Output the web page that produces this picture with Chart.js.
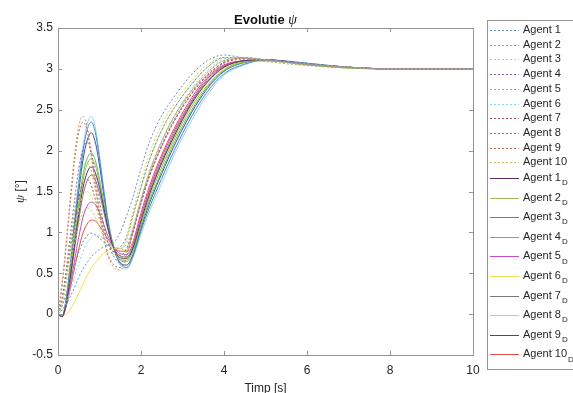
<!DOCTYPE html>
<html>
<head>
<meta charset="utf-8">
<script src="https://cdn.jsdelivr.net/npm/chart.js@4"></script>
<style>
html, body { margin: 0; padding: 0; background: #fff; }
</style>
</head>
<body>
<canvas id="c" width="573" height="393"></canvas>
<script>
// time samples [s]
const timp = [0, 0.1, 0.2, 0.3, 0.4, 0.5, 0.6, 0.7, 0.8, 0.9, 1.0, 1.1, 1.2, 1.35, 1.5, 1.65, 1.8, 2.0, 2.2, 2.5, 2.8, 3.2, 3.6, 4.0, 4.5, 5.0, 6.0, 7.0, 8.0, 10.0];

// agents (dashed)
const agent1  = [0, 0.05, 0.12, 0.22, 0.33, 0.45, 0.55, 0.63, 0.70, 0.75, 0.79, 0.82, 0.84, 0.88, 1.00, 1.20, 1.42, 1.78, 2.10, 2.43, 2.66, 2.92, 3.10, 3.17, 3.13, 3.11, 3.06, 3.02, 3.00, 3.00];
const agent2  = [0, 0.40, 0.90, 1.45, 1.95, 2.30, 2.42, 2.30, 2.00, 1.60, 1.25, 0.95, 0.72, 0.57, 0.54, 0.70, 1.02, 1.40, 1.72, 2.10, 2.42, 2.72, 2.95, 3.10, 3.13, 3.11, 3.05, 3.02, 3.00, 3.00];
const agent3  = [0, 0.14, 0.40, 0.72, 1.02, 1.28, 1.45, 1.50, 1.45, 1.32, 1.15, 1.00, 0.90, 0.80, 0.80, 0.92, 1.25, 1.62, 1.96, 2.32, 2.58, 2.85, 3.05, 3.14, 3.13, 3.11, 3.06, 3.02, 3.00, 3.00];
const agent4  = [0, 0.20, 0.55, 0.98, 1.40, 1.78, 2.02, 2.10, 1.98, 1.70, 1.38, 1.10, 0.88, 0.70, 0.63, 0.72, 0.98, 1.35, 1.68, 2.05, 2.36, 2.68, 2.92, 3.08, 3.13, 3.11, 3.06, 3.02, 3.00, 3.00];
const agent5  = [0, 0.18, 0.50, 0.88, 1.25, 1.58, 1.80, 1.85, 1.75, 1.52, 1.27, 1.05, 0.88, 0.74, 0.68, 0.76, 1.02, 1.40, 1.74, 2.12, 2.42, 2.72, 2.96, 3.10, 3.12, 3.09, 3.04, 3.01, 3.00, 3.00];
const agent6  = [0, 0.05, 0.15, 0.30, 0.46, 0.62, 0.76, 0.87, 0.94, 0.97, 0.96, 0.92, 0.87, 0.82, 0.80, 0.86, 1.05, 1.40, 1.74, 2.12, 2.42, 2.74, 2.98, 3.12, 3.14, 3.11, 3.06, 3.02, 3.00, 3.00];
const agent7  = [0, 0.16, 0.45, 0.80, 1.14, 1.42, 1.60, 1.65, 1.58, 1.40, 1.20, 1.02, 0.88, 0.76, 0.72, 0.80, 1.02, 1.38, 1.70, 2.06, 2.36, 2.68, 2.92, 3.07, 3.12, 3.11, 3.06, 3.02, 3.00, 3.00];
const agent8  = [0, 0.10, 0.25, 0.42, 0.60, 0.76, 0.88, 0.96, 0.99, 0.97, 0.93, 0.88, 0.84, 0.80, 0.82, 0.95, 1.20, 1.55, 1.88, 2.25, 2.52, 2.80, 3.02, 3.14, 3.14, 3.11, 3.06, 3.02, 3.00, 3.00];
const agent9  = [0, 0.35, 0.85, 1.38, 1.88, 2.22, 2.35, 2.25, 1.95, 1.58, 1.24, 0.95, 0.74, 0.60, 0.57, 0.70, 1.00, 1.36, 1.68, 2.06, 2.38, 2.70, 2.93, 3.08, 3.13, 3.11, 3.06, 3.02, 3.00, 3.00];
const agent10 = [0, 0.12, 0.35, 0.62, 0.88, 1.10, 1.25, 1.30, 1.27, 1.18, 1.06, 0.95, 0.88, 0.80, 0.80, 0.90, 1.18, 1.55, 1.88, 2.25, 2.52, 2.80, 3.02, 3.13, 3.13, 3.11, 3.06, 3.02, 3.00, 3.00];

// desired trajectories (solid)
const agent1D  = [0, -0.03, 0.14, 0.47, 0.85, 1.22, 1.54, 1.73, 1.80, 1.73, 1.55, 1.31, 1.06, 0.80, 0.69, 0.68, 0.80, 1.14, 1.46, 1.85, 2.18, 2.56, 2.84, 3.02, 3.10, 3.11, 3.06, 3.02, 3.00, 3.00];
const agent2D  = [0, -0.03, 0.15, 0.50, 0.90, 1.30, 1.63, 1.83, 1.90, 1.82, 1.61, 1.35, 1.08, 0.80, 0.67, 0.66, 0.78, 1.10, 1.42, 1.80, 2.14, 2.52, 2.80, 2.99, 3.09, 3.10, 3.05, 3.01, 3.00, 3.00];
const agent3D  = [0, -0.03, 0.20, 0.62, 1.10, 1.58, 1.98, 2.25, 2.35, 2.22, 1.90, 1.52, 1.16, 0.80, 0.62, 0.57, 0.70, 1.02, 1.30, 1.66, 2.00, 2.40, 2.72, 2.94, 3.06, 3.11, 3.07, 3.02, 3.00, 3.00];
const agent4D  = [0, -0.03, 0.16, 0.52, 0.94, 1.35, 1.70, 1.90, 1.97, 1.88, 1.65, 1.37, 1.10, 0.80, 0.66, 0.64, 0.76, 1.08, 1.38, 1.75, 2.10, 2.48, 2.78, 2.98, 3.08, 3.10, 3.05, 3.01, 3.00, 3.00];
const agent5D  = [0, -0.03, 0.11, 0.37, 0.66, 0.94, 1.18, 1.32, 1.37, 1.34, 1.24, 1.10, 0.96, 0.82, 0.74, 0.73, 0.85, 1.20, 1.52, 1.92, 2.24, 2.60, 2.88, 3.04, 3.10, 3.11, 3.06, 3.02, 3.00, 3.00];
const agent6D  = [0, -0.02, 0.00, 0.06, 0.15, 0.26, 0.37, 0.47, 0.56, 0.63, 0.69, 0.74, 0.78, 0.82, 0.80, 0.78, 0.86, 1.15, 1.46, 1.84, 2.17, 2.55, 2.83, 3.01, 3.09, 3.11, 3.06, 3.02, 3.00, 3.00];
const agent7D  = [0, -0.03, 0.13, 0.44, 0.80, 1.15, 1.45, 1.63, 1.70, 1.64, 1.48, 1.26, 1.04, 0.81, 0.71, 0.70, 0.82, 1.16, 1.49, 1.88, 2.21, 2.58, 2.86, 3.03, 3.10, 3.11, 3.06, 3.02, 3.00, 3.00];
const agent8D  = [0, -0.03, 0.20, 0.65, 1.15, 1.65, 2.05, 2.32, 2.42, 2.28, 1.95, 1.55, 1.18, 0.80, 0.60, 0.55, 0.68, 0.98, 1.25, 1.60, 1.95, 2.35, 2.68, 2.92, 3.05, 3.11, 3.07, 3.02, 3.00, 3.00];
const agent9D  = [0, -0.03, 0.18, 0.58, 1.04, 1.50, 1.88, 2.12, 2.22, 2.10, 1.82, 1.47, 1.14, 0.80, 0.63, 0.60, 0.72, 1.05, 1.35, 1.72, 2.06, 2.45, 2.76, 2.97, 3.08, 3.11, 3.06, 3.02, 3.00, 3.00];
const agent10D = [0, -0.03, 0.10, 0.32, 0.57, 0.80, 0.99, 1.10, 1.15, 1.14, 1.08, 1.00, 0.92, 0.82, 0.77, 0.77, 0.88, 1.24, 1.56, 1.95, 2.27, 2.63, 2.90, 3.05, 3.10, 3.11, 3.06, 3.02, 3.00, 3.00];

const xTicks = [0, 2, 4, 6, 8, 10];
const yTicks = [-0.5, 0, 0.5, 1, 1.5, 2, 2.5, 3, 3.5];

const agentSeries = [agent1, agent2, agent3, agent4, agent5, agent6, agent7, agent8, agent9, agent10];
const desiredSeries = [agent1D, agent2D, agent3D, agent4D, agent5D, agent6D, agent7D, agent8D, agent9D, agent10D];
const agentColors = ['#6a90d2', '#d9935a', '#e0d468', '#8c66a0', '#9ab462', '#8cd6ea', '#ab5252', '#58929a', '#b87058', '#cac464'];
const desiredColors = ['#5e2a62', '#9cba58', '#4a86b8', '#4cc858', '#c54cc5', '#eee24e', '#7a7a7a', '#8cd8f0', '#45459e', '#e0504a'];

const datasets = [];
agentSeries.forEach((vals, i) => {
  datasets.push({
    label: 'Agent ' + (i + 1), sub: '',
    data: timp.map((t, k) => ({ x: t, y: vals[k] })),
    borderColor: agentColors[i], borderWidth: 1, borderDash: [2, 2],
    pointRadius: 0, cubicInterpolationMode: 'monotone', fill: false
  });
});
desiredSeries.forEach((vals, i) => {
  datasets.push({
    label: 'Agent ' + (i + 1), sub: 'D',
    data: timp.map((t, k) => ({ x: t, y: vals[k] })),
    borderColor: desiredColors[i], borderWidth: 1,
    pointRadius: 0, cubicInterpolationMode: 'monotone', fill: false
  });
});

// axis box with inward ticks, title, axis labels and legend
const decor = {
  id: 'decor',
  afterDraw(chart) {
    const ctx = chart.ctx, a = chart.chartArea;
    const xs = chart.scales.x, ys = chart.scales.y;
    ctx.save();
    ctx.strokeStyle = '#939393';
    ctx.lineWidth = 1;
    ctx.strokeRect(a.left + 0.5, a.top + 0.5, a.right - a.left, a.bottom - a.top);
    ctx.beginPath();
    xTicks.forEach(v => {
      const px = Math.round(xs.getPixelForValue(v)) + 0.5;
      ctx.moveTo(px, a.bottom); ctx.lineTo(px, a.bottom - 4);
      ctx.moveTo(px, a.top); ctx.lineTo(px, a.top + 4);
    });
    yTicks.forEach(v => {
      const py = Math.round(ys.getPixelForValue(v)) + 0.5;
      ctx.moveTo(a.left, py); ctx.lineTo(a.left + 4, py);
      ctx.moveTo(a.right, py); ctx.lineTo(a.right - 4, py);
    });
    ctx.stroke();

    // title
    const cx = (a.left + a.right) / 2;
    ctx.fillStyle = '#111';
    ctx.textBaseline = 'alphabetic';
    ctx.font = 'bold 13px "Liberation Sans", Arial, sans-serif';
    const t1 = 'Evolutie ';
    const w1 = ctx.measureText(t1).width;
    ctx.font = 'italic 14px "Liberation Serif", serif';
    const w2 = ctx.measureText('ψ').width;
    const sx = cx - (w1 + w2) / 2;
    ctx.font = 'bold 13px "Liberation Sans", Arial, sans-serif';
    ctx.textAlign = 'left';
    ctx.fillText(t1, sx, 24);
    ctx.font = 'italic 14px "Liberation Serif", serif';
    ctx.fillText('ψ', sx + w1, 24);

    // x label
    ctx.fillStyle = '#262626';
    ctx.font = '12px "Liberation Sans", Arial, sans-serif';
    ctx.textAlign = 'center';
    ctx.fillText('Timp [s]', cx, 392);

    // y label
    ctx.save();
    ctx.translate(24, (a.top + a.bottom) / 2);
    ctx.rotate(-Math.PI / 2);
    ctx.font = 'italic 13px "Liberation Serif", serif';
    const wp = ctx.measureText('ψ').width;
    ctx.font = '12px "Liberation Sans", Arial, sans-serif';
    const wr = ctx.measureText(' [°]').width;
    ctx.textAlign = 'left';
    ctx.font = 'italic 13px "Liberation Serif", serif';
    ctx.fillText('ψ', -(wp + wr) / 2, 0);
    ctx.font = '12px "Liberation Sans", Arial, sans-serif';
    ctx.fillText(' [°]', -(wp + wr) / 2 + wp, 0);
    ctx.restore();

    // legend
    const lx = 487, ly = 20, lb = 369;
    ctx.fillStyle = '#fff';
    ctx.fillRect(lx, ly, 120, lb - ly);
    ctx.strokeStyle = '#939393';
    ctx.strokeRect(lx + 0.5, ly + 0.5, 120, lb - ly);
    chart.data.datasets.forEach((ds, i) => {
      const y = i < 10 ? 30 + i * 14.7 : 178 + (i - 10) * 19.6;
      ctx.beginPath();
      ctx.strokeStyle = ds.borderColor;
      ctx.setLineDash(ds.borderDash || []);
      ctx.moveTo(490, Math.round(y) + 0.5);
      ctx.lineTo(519, Math.round(y) + 0.5);
      ctx.stroke();
      ctx.setLineDash([]);
      ctx.fillStyle = '#262626';
      ctx.font = '11px "Liberation Sans", Arial, sans-serif';
      ctx.textBaseline = 'middle';
      ctx.textAlign = 'left';
      ctx.fillText(ds.label, 523, y);
      if (ds.sub) {
        const w = ctx.measureText(ds.label).width;
        ctx.font = '8px "Liberation Sans", Arial, sans-serif';
        ctx.fillText(ds.sub, 523 + w + 1, y + 5);
      }
    });
    ctx.restore();
  }
};

new Chart(document.getElementById('c'), {
  type: 'line',
  data: { datasets },
  options: {
    responsive: false,
    animation: false,
    devicePixelRatio: 1,
    layout: { padding: { left: 0, right: 100, top: 28, bottom: 0 } },
    plugins: { legend: { display: false }, tooltip: { enabled: false }, title: { display: false } },
    scales: {
      x: {
        type: 'linear', min: 0, max: 10,
        afterFit: s => { s.height = 38; },
        afterBuildTicks: s => { s.ticks = xTicks.map(v => ({ value: v })); },
        grid: { display: false, drawTicks: false },
        border: { display: false },
        ticks: { padding: 8, color: '#262626', callback: v => String(v), font: { size: 12, family: '"Liberation Sans", Arial, sans-serif' } }
      },
      y: {
        type: 'linear', min: -0.5, max: 3.5,
        afterFit: s => { s.width = 58; },
        afterBuildTicks: s => { s.ticks = yTicks.map(v => ({ value: v })); },
        grid: { display: false, drawTicks: false },
        border: { display: false },
        ticks: { padding: 5, color: '#262626', callback: v => String(v), font: { size: 12, family: '"Liberation Sans", Arial, sans-serif' } }
      }
    }
  },
  plugins: [decor]
});
</script>
</body>
</html>
